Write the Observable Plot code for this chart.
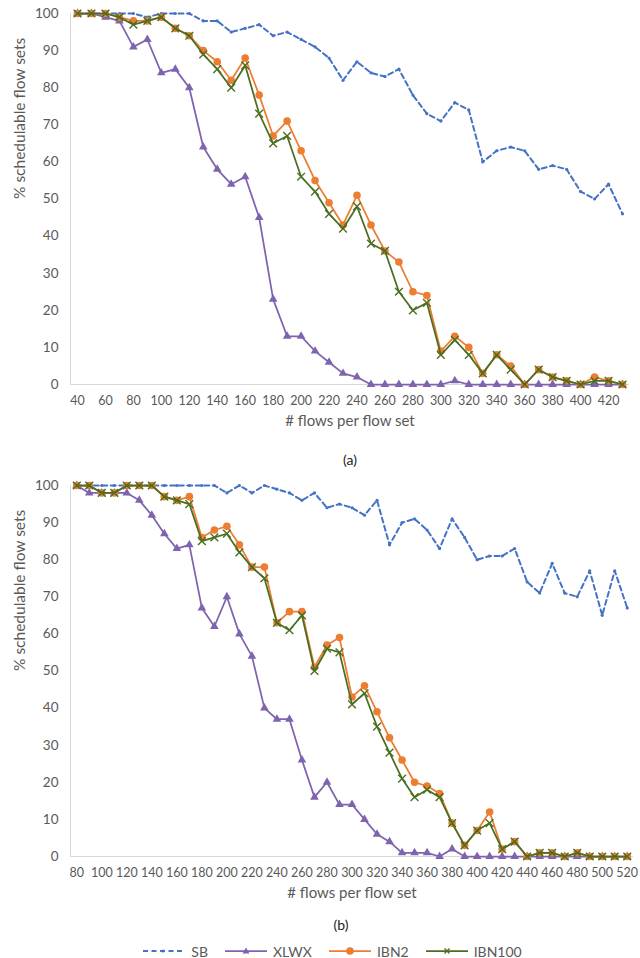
<!DOCTYPE html>
<html>
<head>
<meta charset="utf-8">
<script src="https://cdn.jsdelivr.net/npm/d3@7"></script>
<script src="https://cdn.jsdelivr.net/npm/@observablehq/plot@0.6"></script>
<style>
  html, body { margin: 0; padding: 0; background: #fff; }
  body { width: 640px; height: 958px; position: relative; font-family: Lato, "Open Sans", sans-serif; }
  .abs { position: absolute; }
  .cap { position: absolute; width: 60px; text-align: center; font-size: 14px; color: #222; line-height: 16px; }
  #legend { position: absolute; top: 943px; left: 0; width: 640px; height: 16px; display: flex; justify-content: center; align-items: center; font-size: 14px; color: #595959; padding-left: 24px; box-sizing: border-box; }
  #legend .item { display: flex; align-items: center; margin: 0 8px; }
  #legend svg { margin-right: 5px; }
</style>
</head>
<body>
<div id="chartA" class="abs" style="top:0;left:0;"></div>
<div class="cap" style="top:452px;left:320px;">(a)</div>
<div id="chartB" class="abs" style="top:472px;left:0;"></div>
<div class="cap" style="top:917px;left:311px;">(b)</div>
<div id="legend"></div>
<script>
// ---------- Data: chart (a) ----------
const xA = [40, 50, 60, 70, 80, 90, 100, 110, 120, 130, 140, 150, 160, 170, 180, 190, 200, 210, 220, 230,
            240, 250, 260, 270, 280, 290, 300, 310, 320, 330, 340, 350, 360, 370, 380, 390, 400, 410, 420, 430];
const sbA = [100, 100, 100, 100, 100, 99, 100, 100, 100, 98, 98, 95, 96, 97, 94, 95, 93, 91, 88, 82,
             87, 84, 83, 85, 78, 73, 71, 76, 74, 60, 63, 64, 63, 58, 59, 58, 52, 50, 54, 46];
const xlwxA = [100, 100, 99, 98, 91, 93, 84, 85, 80, 64, 58, 54, 56, 45, 23, 13, 13, 9, 6, 3,
               2, 0, 0, 0, 0, 0, 0, 1, 0, 0, 0, 0, 0, 0, 0, 0, 0, 0, 0, 0];
const ibn2A = [100, 100, 100, 99, 98, 98, 99, 96, 94, 90, 87, 82, 88, 78, 67, 71, 63, 55, 49, 43,
               51, 43, 36, 33, 25, 24, 9, 13, 10, 3, 8, 5, 0, 4, 2, 1, 0, 2, 1, 0];
const ibn100A = [100, 100, 100, 99, 97, 98, 99, 96, 94, 89, 85, 80, 86, 73, 65, 67, 56, 52, 46, 42,
                 48, 38, 36, 25, 20, 22, 8, 12, 8, 3, 8, 4, 0, 4, 2, 1, 0, 1, 1, 0];
const xTicksA = [40, 60, 80, 100, 120, 140, 160, 180, 200, 220, 240, 260, 280, 300, 320, 340, 360, 380, 400, 420];

// ---------- Data: chart (b) ----------
const xB = [80, 90, 100, 110, 120, 130, 140, 150, 160, 170, 180, 190, 200, 210, 220, 230, 240, 250, 260, 270,
            280, 290, 300, 310, 320, 330, 340, 350, 360, 370, 380, 390, 400, 410, 420, 430, 440, 450, 460, 470,
            480, 490, 500, 510, 520];
const sbB = [100, 100, 100, 100, 100, 100, 100, 100, 100, 100, 100, 100, 98, 100, 98, 100, 99, 98, 96, 98,
             94, 95, 94, 92, 96, 84, 90, 91, 88, 83, 91, 86, 80, 81, 81, 83, 74, 71, 79, 71,
             70, 77, 65, 77, 67];
const xlwxB = [100, 98, 98, 98, 98, 96, 92, 87, 83, 84, 67, 62, 70, 60, 54, 40, 37, 37, 26, 16,
               20, 14, 14, 10, 6, 4, 1, 1, 1, 0, 2, 0, 0, 0, 0, 0, 0, 0, 0, 0,
               0, 0, 0, 0, 0];
const ibn2B = [100, 100, 98, 98, 100, 100, 100, 97, 96, 97, 86, 88, 89, 84, 78, 78, 63, 66, 66, 51,
               57, 59, 43, 46, 39, 32, 26, 20, 19, 17, 9, 3, 7, 12, 2, 4, 0, 1, 1, 0,
               1, 0, 0, 0, 0];
const ibn100B = [100, 100, 98, 98, 100, 100, 100, 97, 96, 95, 85, 86, 87, 82, 78, 75, 63, 61, 65, 50,
                 56, 55, 41, 44, 35, 28, 21, 16, 18, 16, 9, 3, 7, 9, 2, 4, 0, 1, 1, 0,
                 1, 0, 0, 0, 0];
const xTicksB = [80, 100, 120, 140, 160, 180, 200, 220, 240, 260, 280, 300, 320, 340, 360, 380, 400, 420, 440, 460, 480, 500, 520];

const yTicks = [0, 10, 20, 30, 40, 50, 60, 70, 80, 90, 100];
const seriesNames = ["SB", "XLWX", "IBN2", "IBN100"];
const colors = { SB: "#4472C4", XLWX: "#7F63AE", IBN2: "#ED7D31", IBN100: "#4B6E22" };
const yLabel = "% schedulable flow sets";
const xLabel = "# flows per flow set";

function rows(xs, vals) { return xs.map((x, i) => ({ x, y: vals[i] })); }

function makeChart(xs, sb, xl, i2, i100, xDomain, xTicks, marginRight) {
  const dSB = rows(xs, sb), dXL = rows(xs, xl), dI2 = rows(xs, i2), dI100 = rows(xs, i100);
  return Plot.plot({
    width: 640,
    height: 440,
    marginTop: 13,
    marginBottom: 56,
    marginLeft: 70,
    marginRight,
    x: { domain: xDomain },
    y: { domain: [0, 100] },
    style: { fontFamily: "Lato, 'Open Sans', sans-serif", fontSize: "13.5px", color: "#595959", background: "white" },
    marks: [
      Plot.ruleY([0], { stroke: "#d9d9d9", strokeWidth: 1 }),
      Plot.ruleX([xDomain[0]], { stroke: "#d9d9d9", strokeWidth: 1 }),
      Plot.axisY({ ticks: yTicks, tickSize: 0, tickPadding: 12, label: null }),
      Plot.axisX({ ticks: xTicks, tickSize: 0, tickPadding: 12, label: null, fontSize: 12.5, tickFormat: d => String(d) }),
      Plot.text([yLabel], { text: d => d, frameAnchor: "left", rotate: -90, dx: -50, fontSize: 15.5 }),
      Plot.text([xLabel], { text: d => d, frameAnchor: "bottom", dy: 41, fontSize: 15 }),
      // SB
      Plot.line(dSB, { x: "x", y: "y", stroke: colors.SB, strokeWidth: 2, strokeDasharray: "5,3.5" }),
      Plot.dot(dSB, { x: "x", y: "y", r: 1.6, fill: colors.SB, stroke: "none" }),
      // XLWX
      Plot.line(dXL, { x: "x", y: "y", stroke: colors.XLWX, strokeWidth: 1.75 }),
      Plot.dot(dXL, { x: "x", y: "y", symbol: "triangle", r: 3.2, fill: colors.XLWX, stroke: "none" }),
      // IBN2
      Plot.line(dI2, { x: "x", y: "y", stroke: colors.IBN2, strokeWidth: 1.75 }),
      Plot.dot(dI2, { x: "x", y: "y", symbol: "circle", r: 3.8, fill: colors.IBN2, stroke: "none" }),
      // IBN100
      Plot.line(dI100, { x: "x", y: "y", stroke: colors.IBN100, strokeWidth: 1.75 }),
      Plot.dot(dI100, { x: "x", y: "y", symbol: "times", r: 3.6, stroke: colors.IBN100, strokeWidth: 1.4, fill: "none" })
    ]
  });
}

document.getElementById("chartA").append(
  makeChart(xA, sbA, xlwxA, ibn2A, ibn100A, [35, 435], xTicksA, 11)
);
document.getElementById("chartB").append(
  makeChart(xB, sbB, xlwxB, ibn2B, ibn100B, [75, 525], xTicksB, 7)
);

// ---------- Legend ----------
const legend = document.getElementById("legend");
const swatch = {
  SB: `<line x1="1" y1="6" x2="41" y2="6" stroke="${colors.SB}" stroke-width="2" stroke-dasharray="5,3.5"/><circle cx="21" cy="6" r="1.6" fill="${colors.SB}"/>`,
  XLWX: `<line x1="1" y1="6" x2="43" y2="6" stroke="${colors.XLWX}" stroke-width="1.75"/><path d="M22,2.5 L25.5,8.5 L18.5,8.5 Z" fill="${colors.XLWX}"/>`,
  IBN2: `<line x1="1" y1="6" x2="43" y2="6" stroke="${colors.IBN2}" stroke-width="1.75"/><circle cx="22" cy="6" r="3.8" fill="${colors.IBN2}"/>`,
  IBN100: `<line x1="1" y1="6" x2="43" y2="6" stroke="${colors.IBN100}" stroke-width="1.75"/><path d="M19.5,3.5 L24.5,8.5 M24.5,3.5 L19.5,8.5" stroke="${colors.IBN100}" stroke-width="1.4"/>`
};
seriesNames.forEach(name => {
  const item = document.createElement("div");
  item.className = "item";
  item.innerHTML = `<svg width="44" height="12">${swatch[name]}</svg><span>${name}</span>`;
  legend.append(item);
});
</script>
</body>
</html>
